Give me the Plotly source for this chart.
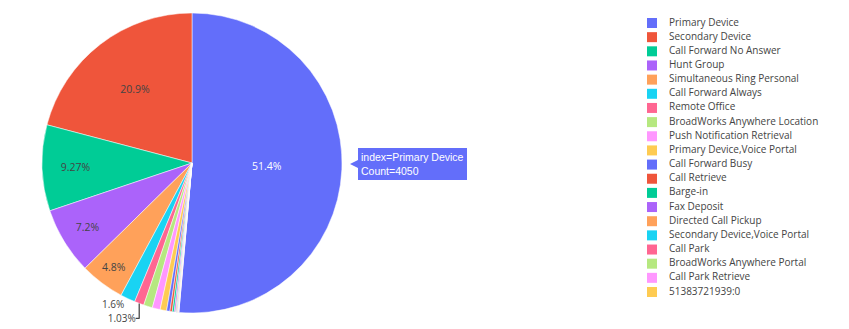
import plotly.graph_objects as go

labels = ["Primary Device", "Secondary Device", "Call Forward No Answer", "Hunt Group",
          "Simultaneous Ring Personal", "Call Forward Always", "Remote Office",
          "BroadWorks Anywhere Location", "Push Notification Retrieval",
          "Primary Device,Voice Portal", "Call Forward Busy", "Call Retrieve", "Barge-in",
          "Fax Deposit", "Directed Call Pickup", "Secondary Device,Voice Portal", "Call Park",
          "BroadWorks Anywhere Portal", "Call Park Retrieve", "51383721939:0"]
counts = [4050, 1647, 730, 567, 378, 126, 81, 75, 67, 55, 28, 20, 16, 12, 8, 6, 5, 4, 3, 1]

colorway = ["#636efa", "#EF553B", "#00cc96", "#ab63fa", "#FFA15A",
            "#19d3f3", "#FF6692", "#B6E880", "#FF97FF", "#FECB52"]
colors = [colorway[i % len(colorway)] for i in range(len(labels))]

W, H = 849, 329

total = sum(counts)
positions = []
for c in counts:
    p = c / total
    if p >= 0.04:
        positions.append("inside")
    elif p >= 0.01:
        positions.append("outside")
    else:
        positions.append("none")

fig = go.Figure()
fig.add_trace(go.Pie(
    labels=labels, values=counts,
    textinfo="percent",
    textposition=positions,
    insidetextfont=dict(size=10.5, family="Open Sans"),
    outsidetextfont=dict(size=10, family="Open Sans", color="#444"),
    domain=dict(x=[34 / W, 334 / W], y=[(H - 305) / H, (H - 5) / H]),
    marker=dict(colors=colors, line=dict(color="white", width=0.5)),
    hovertemplate="index=%{label}<br>Count=%{value}<extra></extra>",
    showlegend=False, sort=True,
))

# legend drawn as a marker list on its own axes
rows = list(range(len(labels)))
fig.add_trace(go.Scatter(
    x=[16] * len(labels), y=rows, mode="markers",
    marker=dict(symbol="square", size=10, color=colors),
    hoverinfo="skip", showlegend=False, xaxis="x", yaxis="y",
))
fig.add_trace(go.Scatter(
    x=[33] * len(labels), y=rows, mode="text", text=labels,
    textposition="middle right", textfont=dict(size=10, family="Open Sans", color="#444"),
    hoverinfo="skip", showlegend=False, xaxis="x", yaxis="y",
))

row_px = (292 - 23) / 19
ymin = -15 / row_px
ymax = ymin + H / row_px

fig.add_annotation(
    xref="paper", yref="paper", x=342 / W, y=1 - 156 / H,
    text="index=Primary Device<br>Count=4050", showarrow=True,
    arrowhead=2, arrowsize=1, arrowwidth=2, arrowcolor="#636efa",
    ax=8, ay=0, xanchor="left", yanchor="middle", align="left",
    bgcolor="#636efa", bordercolor="#636efa", borderpad=2,
    font=dict(color="white", size=10.5, family="Arial"),
)

fig.update_layout(
    width=W, height=H,
    margin=dict(l=0, r=0, t=0, b=0, autoexpand=False),
    paper_bgcolor="white", plot_bgcolor="white",
    font=dict(family="Open Sans", color="#444"),
    showlegend=False,
    xaxis=dict(domain=[628 / W, 1], range=[0, W - 628], visible=False, fixedrange=True),
    yaxis=dict(domain=[0, 1], range=[ymax, ymin], visible=False, fixedrange=True),
)

fig.write_html("out.html")
